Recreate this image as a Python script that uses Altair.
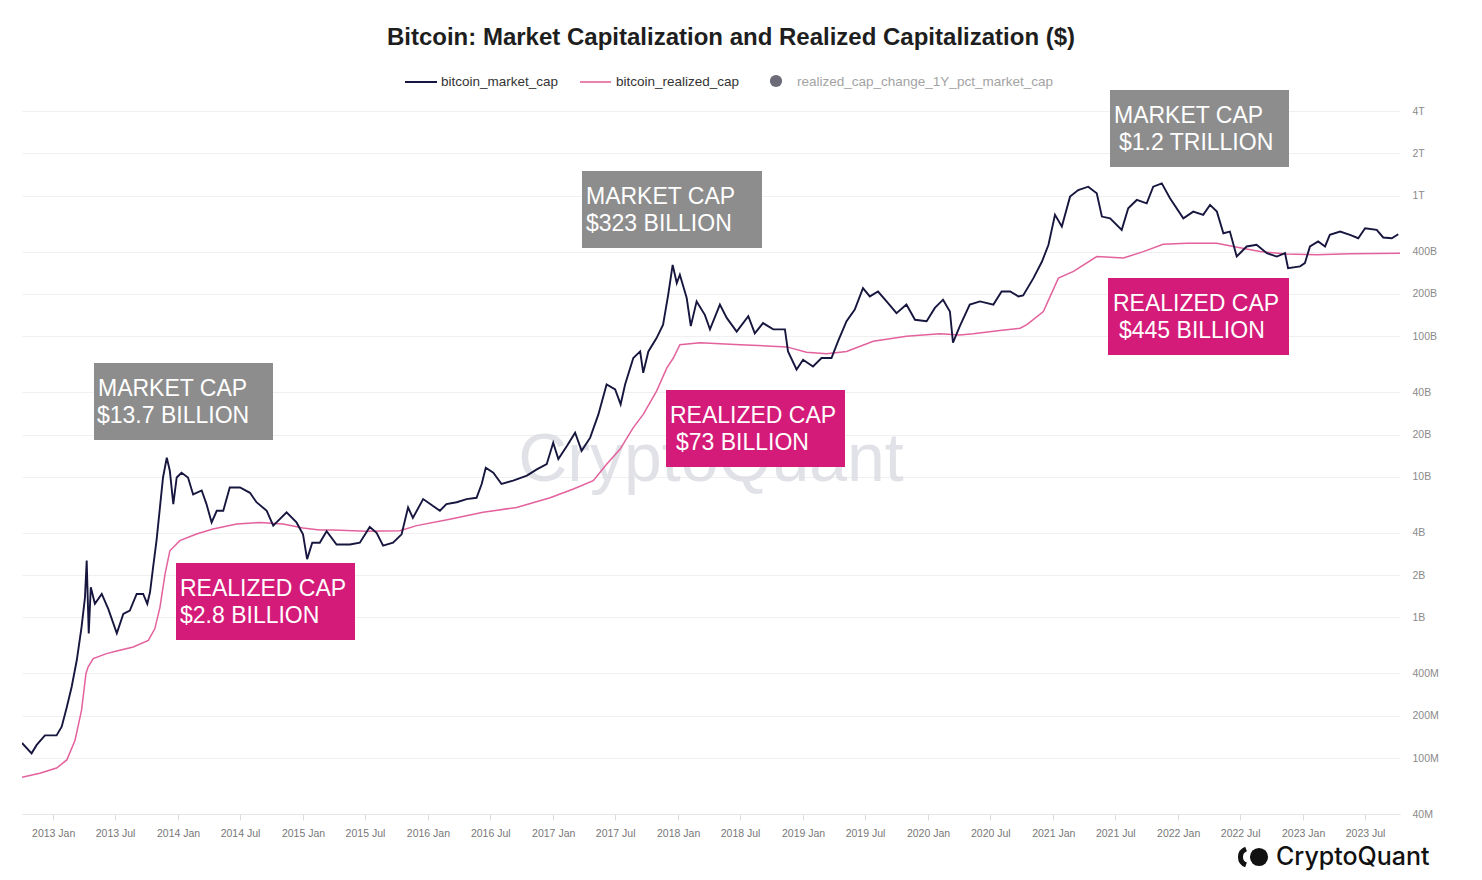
import altair as alt
import pandas as pd

# ---------------- data ----------------
TITLE = "Bitcoin: Market Capitalization and Realized Capitalization ($)"
SERIES = ["bitcoin_market_cap", "bitcoin_realized_cap", "realized_cap_change_1Y_pct_market_cap"]

# market cap: decimal year, value in billions of $
mc_t = [2012.752, 2012.830, 2012.870, 2012.936, 2013.030, 2013.070, 2013.110, 2013.150, 2013.190, 2013.230,
        2013.256, 2013.270, 2013.286, 2013.302, 2013.336, 2013.390, 2013.442, 2013.510, 2013.562, 2013.616,
        2013.670, 2013.722, 2013.754, 2013.776, 2013.802, 2013.830, 2013.856, 2013.882, 2013.910, 2013.936,
        2013.962, 2013.990, 2014.030, 2014.082, 2014.122, 2014.190, 2014.230, 2014.270, 2014.310, 2014.362,
        2014.416, 2014.496, 2014.576, 2014.630, 2014.710, 2014.762, 2014.870, 2014.950, 2015.002, 2015.034,
        2015.076, 2015.136, 2015.190, 2015.270, 2015.376, 2015.456, 2015.536, 2015.590, 2015.642, 2015.722,
        2015.790, 2015.842, 2015.882, 2015.962, 2016.042, 2016.096, 2016.150, 2016.230, 2016.310, 2016.390,
        2016.430, 2016.464, 2016.522, 2016.590, 2016.682, 2016.790, 2016.870, 2016.950, 2017.002, 2017.042,
        2017.110, 2017.176, 2017.230, 2017.296, 2017.362, 2017.430, 2017.496, 2017.542, 2017.576, 2017.642,
        2017.696, 2017.722, 2017.762, 2017.830, 2017.882, 2017.922, 2017.958, 2017.990, 2018.016, 2018.070,
        2018.102, 2018.150, 2018.216, 2018.256, 2018.336, 2018.390, 2018.470, 2018.562, 2018.616, 2018.682,
        2018.762, 2018.856, 2018.882, 2018.950, 2019.002, 2019.082, 2019.150, 2019.230, 2019.282, 2019.350,
        2019.416, 2019.482, 2019.536, 2019.602, 2019.670, 2019.750, 2019.830, 2019.896, 2019.990, 2020.056,
        2020.122, 2020.176, 2020.202, 2020.256, 2020.336, 2020.416, 2020.522, 2020.590, 2020.656, 2020.722,
        2020.762, 2020.842, 2020.910, 2020.962, 2021.016, 2021.070, 2021.136, 2021.202, 2021.282, 2021.350,
        2021.390, 2021.456, 2021.550, 2021.602, 2021.670, 2021.750, 2021.802, 2021.870, 2021.936, 2022.042,
        2022.122, 2022.202, 2022.256, 2022.310, 2022.362, 2022.416, 2022.470, 2022.550, 2022.630, 2022.710,
        2022.790, 2022.856, 2022.882, 2022.976, 2023.016, 2023.056, 2023.122, 2023.176, 2023.216, 2023.296,
        2023.376, 2023.442, 2023.496, 2023.590, 2023.642, 2023.710, 2023.762]
mc_v = [0.128, 0.108, 0.124, 0.145, 0.145, 0.167, 0.231, 0.32, 0.496, 0.854,
        1.39, 2.54, 0.77, 1.64, 1.25, 1.47, 1.15, 0.77, 1.06, 1.12,
        1.47, 1.47, 1.25, 1.51, 2.27, 3.52, 6.06, 9.9, 13.7, 11.0,
        6.4, 9.9, 10.7, 9.9, 7.5, 8.0, 6.4, 4.74, 5.74, 5.74,
        8.4, 8.4, 7.7, 6.6, 5.74, 4.5, 5.6, 4.74, 3.9, 2.6,
        3.4, 3.4, 4.1, 3.3, 3.3, 3.4, 4.4, 4.0, 3.24, 3.4,
        3.9, 6.06, 5.1, 6.95, 6.2, 5.74, 6.4, 6.6, 6.95, 7.1,
        8.9, 11.6, 10.7, 8.9, 9.4, 10.2, 11.3, 12.3, 17.5, 13.4,
        16.6, 20.6, 15.3, 19.0, 27.8, 45.4, 41.9, 32.8, 45.4, 70,
        78, 55, 78, 97, 121, 198, 322, 239, 274, 187,
        118, 177, 142, 112, 168, 135, 108, 139, 105, 124,
        112, 112, 78, 58, 68, 61, 70, 70, 92, 128,
        155, 220, 192, 208, 177, 146, 168, 131, 128, 159,
        182, 150, 90, 118, 168, 177, 168, 208, 208, 192,
        195, 259, 340, 447, 730, 603, 984, 1097, 1158, 1040,
        710, 690, 571, 813, 932, 882, 1158, 1222, 957, 690,
        770, 730, 859, 770, 540, 555, 369, 435, 447, 390,
        369, 390, 305, 314, 331, 435, 472, 435, 526, 555,
        526, 498, 586, 571, 504, 498, 532]

# realized cap: decimal year, value in billions of $
rc_t = [2012.752, 2012.896, 2013.030, 2013.110, 2013.176, 2013.230, 2013.264, 2013.282, 2013.322, 2013.430,
        2013.510, 2013.642, 2013.762, 2013.816, 2013.856, 2013.896, 2013.936, 2014.016, 2014.150, 2014.282,
        2014.470, 2014.656, 2014.842, 2015.002, 2015.136, 2015.242, 2015.510, 2015.776, 2015.910, 2016.176,
        2016.442, 2016.710, 2016.976, 2017.162, 2017.322, 2017.430, 2017.536, 2017.642, 2017.722, 2017.830,
        2017.910, 2017.962, 2018.016, 2018.176, 2018.496, 2018.870, 2019.030, 2019.190, 2019.350, 2019.562,
        2019.830, 2020.096, 2020.256, 2020.362, 2020.576, 2020.736, 2020.790, 2020.922, 2021.042, 2021.162,
        2021.350, 2021.562, 2021.722, 2021.882, 2022.070, 2022.310, 2022.442, 2022.656, 2022.870, 2023.110,
        2023.376, 2023.776]
rc_v = [0.073, 0.078, 0.085, 0.097, 0.134, 0.219, 0.40, 0.444, 0.51, 0.553,
        0.577, 0.616, 0.687, 0.83, 1.18, 2.04, 2.98, 3.52, 3.92, 4.26,
        4.62, 4.74, 4.62, 4.33, 4.19, 4.19, 4.1, 4.14, 4.5, 5.0,
        5.6, 6.06, 7.1, 8.2, 9.4, 12.3, 15.7, 22.4, 27.8, 40.7,
        59.6, 70, 87, 90, 87, 84, 77, 75, 78, 92,
        100, 104, 102, 104, 110, 114, 121, 150, 259, 289,
        369, 360, 400, 451, 458, 458, 435, 400, 384, 380,
        386, 389]

Y_TICKS = [4e7, 1e8, 2e8, 4e8, 1e9, 2e9, 4e9, 1e10, 2e10, 4e10,
           1e11, 2e11, 4e11, 1e12, 2e12, 4e12]
X_TICKS = [(y, m) for y in range(2013, 2024) for m in (1, 7)]

ANNOTATIONS = [
    # (kind, line1, line2)
    ("market", "MARKET CAP", "$13.7 BILLION"),
    ("realized", "REALIZED CAP", "$2.8 BILLION"),
    ("market", "MARKET CAP", "$323 BILLION"),
    ("realized", "REALIZED CAP", "$73 BILLION"),
    ("market", "MARKET CAP", "$1.2 TRILLION"),
    ("realized", "REALIZED CAP", "$445 BILLION"),
]


def dec_to_date(t):
    y = int(t)
    start = pd.Timestamp(year=y, month=1, day=1)
    span = (pd.Timestamp(year=y + 1, month=1, day=1) - start).days
    return (start + pd.Timedelta(days=(t - y) * span)).strftime("%Y-%m-%d")


lines_df = pd.DataFrame({
    "date": [dec_to_date(t) for t in mc_t] + [dec_to_date(t) for t in rc_t],
    "value": [v * 1e9 for v in mc_v] + [v * 1e9 for v in rc_v],
    "series": [SERIES[0]] * len(mc_t) + [SERIES[1]] * len(rc_t),
})

# ---------------- style ----------------
FONT = "Liberation Sans"
NAVY = "#17163f"
PINK = "#e3619c"
GRAY_BOX = "#8d8d8d"
PINK_BOX = "#d41b79"
W, H = 1378, 703

one = pd.DataFrame({"k": [0]})

x_enc = alt.X(
    "date:T",
    scale=alt.Scale(type="utc", domain=[alt.DateTime(year=2012, month=10, date=2, utc=True),
                                        alt.DateTime(year=2023, month=10, date=11, utc=True)]),
    axis=alt.Axis(values=[alt.DateTime(year=y, month=m, date=1, utc=True) for y, m in X_TICKS],
                  format="%Y %b", labelFont=FONT, labelFontSize=10.5, labelColor="#777",
                  tickColor="#dcdcdc", tickSize=6, domainColor="#e6e6e6", grid=False,
                  labelPadding=8, title=None, labelOverlap=False, labelFlush=False),
)
y_enc = alt.Y(
    "value:Q",
    scale=alt.Scale(type="log", domain=[4e7, 4e12]),
    axis=alt.Axis(orient="right", values=Y_TICKS,
                  labelExpr="datum.value >= 1e12 ? round(datum.value/1e12) + 'T' : "
                            "(datum.value >= 1e9 ? round(datum.value/1e9) + 'B' : round(datum.value/1e6) + 'M')",
                  ticks=False, domain=False, gridColor="#f0f0f0", labelColor="#8a8a8a",
                  labelFont=FONT, labelFontSize=10.5, labelPadding=12, title=None,
                  labelAlign="left", labelBaseline="middle"),
)

base = alt.Chart(lines_df).encode(x=x_enc, y=y_enc)
realized_line = base.transform_filter(alt.datum.series == SERIES[1]).mark_line(
    color=PINK, strokeWidth=1.5, clip=True)
market_line = base.transform_filter(alt.datum.series == SERIES[0]).mark_line(
    color=NAVY, strokeWidth=1.9, clip=True)

layers = []

# watermark
layers.append(alt.Chart(one).mark_text(text="CryptoQuant", font=FONT, fontSize=68, color="#d8d9e0",
                                       opacity=0.75, align="center", baseline="alphabetic")
              .encode(x=alt.value(689), y=alt.value(370)))
layers += [realized_line, market_line]

# annotation boxes (pixel placement inside the plot)
box_geo = [
    (72, 251, 252, 329, 76, 75),
    (154, 333, 452, 529, 158, 158),
    (560, 740, 60, 137, 564, 564),
    (644, 823, 279, 356, 648, 654),
    (1088, 1267, -21, 56, 1092, 1097),
    (1086, 1267, 167, 244, 1091, 1097),
]
for (kind, l1, l2), (x1, x2, y1, y2, tx1, tx2) in zip(ANNOTATIONS, box_geo):
    col = GRAY_BOX if kind == "market" else PINK_BOX
    layers.append(alt.Chart(one).mark_rect(color=col).encode(
        x=alt.value(x1), x2=alt.value(x2), y=alt.value(y1), y2=alt.value(y2)))
    for tx, ty, txt in ((tx1, y1 + 26, l1), (tx2, y1 + 53, l2)):
        layers.append(alt.Chart(one).mark_text(text=txt, font=FONT, fontSize=23, color="white",
                                               align="left", baseline="middle")
                      .encode(x=alt.value(tx), y=alt.value(ty)))

# title
layers.append(alt.Chart(one).mark_text(text=TITLE, font=FONT, fontSize=24, fontWeight="bold",
                                       color="#1e1e1e", align="center", baseline="middle")
              .encode(x=alt.value(709), y=alt.value(-73)))

# legend
layers.append(alt.Chart(one).mark_rule(color=NAVY, strokeWidth=2).encode(
    x=alt.value(383), x2=alt.value(415), y=alt.value(-29)))
layers.append(alt.Chart(one).mark_text(text=SERIES[0], font=FONT, fontSize=13.5, color="#333",
                                       align="left", baseline="middle")
              .encode(x=alt.value(419), y=alt.value(-29)))
layers.append(alt.Chart(one).mark_rule(color="#ea82ad", strokeWidth=2).encode(
    x=alt.value(558), x2=alt.value(589), y=alt.value(-29)))
layers.append(alt.Chart(one).mark_text(text=SERIES[1], font=FONT, fontSize=13.5, color="#333",
                                       align="left", baseline="middle")
              .encode(x=alt.value(594), y=alt.value(-29)))
layers.append(alt.Chart(one).mark_point(shape="circle", filled=True, size=150, color="#6c6c78", opacity=1)
              .encode(x=alt.value(754), y=alt.value(-30)))
layers.append(alt.Chart(one).mark_text(text=SERIES[2], font=FONT, fontSize=13.5, color="#a3a3a3",
                                       align="left", baseline="middle")
              .encode(x=alt.value(775), y=alt.value(-29)))

# logo
layers.append(alt.Chart(one).mark_arc(radius=11, radius2=6, theta=3.5, theta2=5.93, color="#111")
              .encode(x=alt.value(1227), y=alt.value(746)))
layers.append(alt.Chart(one).mark_point(shape="circle", filled=True, size=330, color="#111", opacity=1)
              .encode(x=alt.value(1237), y=alt.value(746)))
layers.append(alt.Chart(one).mark_text(text="CryptoQuant", font="Inter", fontSize=25, fontWeight=500,
                                       color="#111", align="left", baseline="middle")
              .encode(x=alt.value(1254), y=alt.value(746)))

chart = alt.layer(*layers).properties(
    width=W, height=H,
    autosize=alt.AutoSizeParams(type="none"),
    padding={"left": 14, "top": 103, "right": 70, "bottom": 58},
    background="white",
).configure_view(strokeWidth=0)

chart.save("out.html", embed_options={"renderer": "svg", "actions": False})
